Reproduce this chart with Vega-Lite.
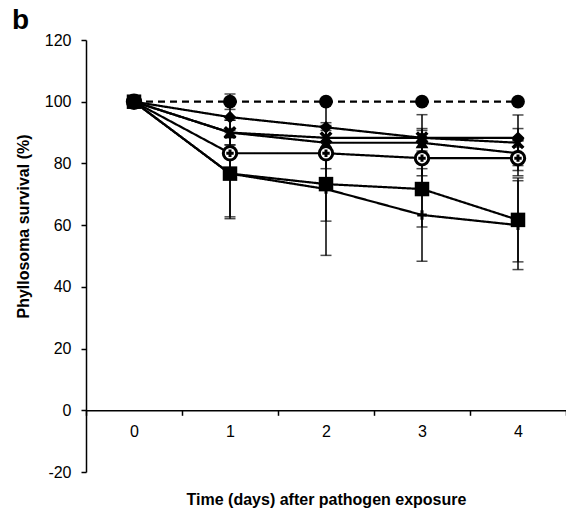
{
  "$schema": "https://vega.github.io/schema/vega-lite/v6.json",
  "width": 480,
  "height": 432,
  "autosize": "none",
  "padding": {"left": 86, "top": 40, "right": 0, "bottom": 49},
  "background": "white",
  "config": {
    "view": {"stroke": null},
    "font": "Liberation Sans",
    "axis": {
      "domainColor": "black", "tickColor": "black", "labelColor": "black", "titleColor": "black",
      "labelFont": "Liberation Sans", "titleFont": "Liberation Sans",
      "labelFontSize": 16, "titleFontSize": 16, "titleFontWeight": "bold",
      "domainWidth": 1.5, "tickWidth": 1.5, "tickSize": 5, "grid": false
    }
  },
  "title": {
    "text": "b", "anchor": "start", "frame": "group", "dx": -74, "dy": 29, "offset": 4,
    "fontSize": 28, "fontWeight": "bold", "font": "Liberation Sans", "color": "black", "baseline": "alphabetic"
  },
  "data": {"values": [
    {"s": "ctrl", "day": 0, "v": 100, "lo": 100, "hi": 100},
    {"s": "ctrl", "day": 1, "v": 100, "lo": 97.5, "hi": 102.5},
    {"s": "ctrl", "day": 2, "v": 100, "lo": 100, "hi": 100},
    {"s": "ctrl", "day": 3, "v": 100, "lo": 100, "hi": 100},
    {"s": "ctrl", "day": 4, "v": 100, "lo": 100, "hi": 100},
    {"s": "dia", "day": 0, "v": 100, "lo": 100, "hi": 100},
    {"s": "dia", "day": 1, "v": 95, "lo": 90, "hi": 100},
    {"s": "dia", "day": 2, "v": 91.7, "lo": 83.7, "hi": 99.7},
    {"s": "dia", "day": 3, "v": 88.3, "lo": 85.3, "hi": 91.3},
    {"s": "dia", "day": 4, "v": 88.3, "lo": 85.3, "hi": 91.3},
    {"s": "x", "day": 0, "v": 100, "lo": 100, "hi": 100},
    {"s": "x", "day": 1, "v": 90, "lo": 86, "hi": 94},
    {"s": "x", "day": 2, "v": 88.3, "lo": 84.3, "hi": 92.3},
    {"s": "x", "day": 3, "v": 88.3, "lo": 80.8, "hi": 95.8},
    {"s": "x", "day": 4, "v": 86.7, "lo": 77.7, "hi": 95.7},
    {"s": "tri", "day": 0, "v": 100, "lo": 100, "hi": 100},
    {"s": "tri", "day": 1, "v": 90, "lo": 86, "hi": 94},
    {"s": "tri", "day": 2, "v": 86.7, "lo": 82.7, "hi": 90.7},
    {"s": "tri", "day": 3, "v": 86.7, "lo": 82.7, "hi": 90.7},
    {"s": "tri", "day": 4, "v": 83.3, "lo": 79.3, "hi": 87.3},
    {"s": "oplus", "day": 0, "v": 100, "lo": 100, "hi": 100},
    {"s": "oplus", "day": 1, "v": 83.3, "lo": 78.3, "hi": 88.3},
    {"s": "oplus", "day": 2, "v": 83.3, "lo": 78.3, "hi": 88.3},
    {"s": "oplus", "day": 3, "v": 81.7, "lo": 76, "hi": 87.4},
    {"s": "oplus", "day": 4, "v": 81.7, "lo": 76, "hi": 87.4},
    {"s": "sq", "day": 0, "v": 100, "lo": 100, "hi": 100},
    {"s": "sq", "day": 1, "v": 76.7, "lo": 62.7, "hi": 90.7},
    {"s": "sq", "day": 2, "v": 73.3, "lo": 61.3, "hi": 85.3},
    {"s": "sq", "day": 3, "v": 71.7, "lo": 59.4, "hi": 84},
    {"s": "sq", "day": 4, "v": 61.7, "lo": 48.1, "hi": 75.3},
    {"s": "plus", "day": 0, "v": 100, "lo": 100, "hi": 100},
    {"s": "plus", "day": 1, "v": 76.7, "lo": 62.1, "hi": 91.3},
    {"s": "plus", "day": 2, "v": 71.7, "lo": 50.2, "hi": 93.2},
    {"s": "plus", "day": 3, "v": 63.3, "lo": 48.3, "hi": 78.3},
    {"s": "plus", "day": 4, "v": 60, "lo": 45.6, "hi": 74.4}
  ]},
  "encoding": {
    "x": {
      "field": "day", "type": "ordinal",
      "scale": {"domain": [0, 1, 2, 3, 4], "paddingInner": 0, "paddingOuter": 0},
      "axis": {
        "orient": "bottom", "offset": -61.7, "labelAngle": 0, "labelPadding": 8,
        "tickBand": "extent", "title": "Time (days) after pathogen exposure",
        "titleY": 94, "titleBaseline": "alphabetic"
      }
    },
    "y": {
      "field": "v", "type": "quantitative",
      "scale": {"domain": [-20, 120], "nice": false, "zero": false},
      "axis": {
        "values": [-20, 0, 20, 40, 60, 80, 100, 120],
        "labelExpr": "'' + datum.value",
        "labelPadding": 10,
        "title": "Phyllosoma survival (%)",
        "titleX": -63, "titleY": 186, "titleAngle": -90,
        "titleAlign": "center", "titleBaseline": "middle"
      }
    }
  },
  "layer": [
    {
      "mark": {"type": "rule", "color": "black", "strokeWidth": 1.5},
      "encoding": {
        "y": {"field": "lo", "type": "quantitative"},
        "y2": {"field": "hi"}
      }
    },
    {
      "mark": {"type": "tick", "color": "black", "size": 11, "thickness": 1.5},
      "encoding": {"y": {"field": "lo", "type": "quantitative"}}
    },
    {
      "mark": {"type": "tick", "color": "black", "size": 11, "thickness": 1.5},
      "encoding": {"y": {"field": "hi", "type": "quantitative"}}
    },
    {
      "mark": {"type": "line", "color": "black", "strokeWidth": 2.2},
      "encoding": {
        "detail": {"field": "s"},
        "strokeDash": {
          "field": "s", "type": "nominal", "legend": null,
          "scale": {
            "domain": ["ctrl", "dia", "x", "tri", "oplus", "sq", "plus"],
            "range": [[7, 5], [1, 0], [1, 0], [1, 0], [1, 0], [1, 0], [1, 0]]
          }
        }
      }
    },
    {
      "transform": [{"filter": "datum.s == 'ctrl' || datum.s == 'dia'"}],
      "mark": {"type": "point", "filled": true, "color": "black", "opacity": 1},
      "encoding": {
        "shape": {
          "field": "s", "type": "nominal", "legend": null,
          "scale": {
            "domain": ["ctrl", "dia"],
            "range": ["circle", "diamond"]
          }
        },
        "size": {
          "field": "s", "type": "nominal", "legend": null,
          "scale": {
            "domain": ["ctrl", "dia"],
            "range": [190, 160]
          }
        }
      }
    },
    {
      "transform": [{"filter": "datum.s == 'x'"}],
      "mark": {"type": "point", "shape": "M-1,-1L1,1M1,-1L-1,1", "size": 110, "filled": false, "stroke": "black", "strokeWidth": 3.5, "opacity": 1}
    },
    {
      "transform": [{"filter": "datum.s == 'tri'"}],
      "mark": {"type": "point", "shape": "triangle-up", "size": 160, "filled": true, "color": "black", "opacity": 1}
    },
    {
      "transform": [{"filter": "datum.s == 'oplus'"}],
      "mark": {"type": "point", "shape": "M-1,0A1,1,0,1,0,1,0A1,1,0,1,0,-1,0ZM-0.55,0L0.55,0M0,-0.55L0,0.55", "size": 180, "fill": "white", "filled": false, "stroke": "black", "strokeWidth": 3, "opacity": 1}
    },
    {
      "transform": [{"filter": "datum.s == 'sq'"}],
      "mark": {"type": "point", "shape": "square", "size": 210, "filled": true, "color": "black", "opacity": 1}
    },
    {
      "transform": [{"filter": "datum.s == 'plus'"}],
      "mark": {"type": "point", "shape": "M-1,0L1,0M0,-1L0,1", "size": 90, "filled": false, "stroke": "black", "strokeWidth": 3, "opacity": 1}
    }
  ]
}
